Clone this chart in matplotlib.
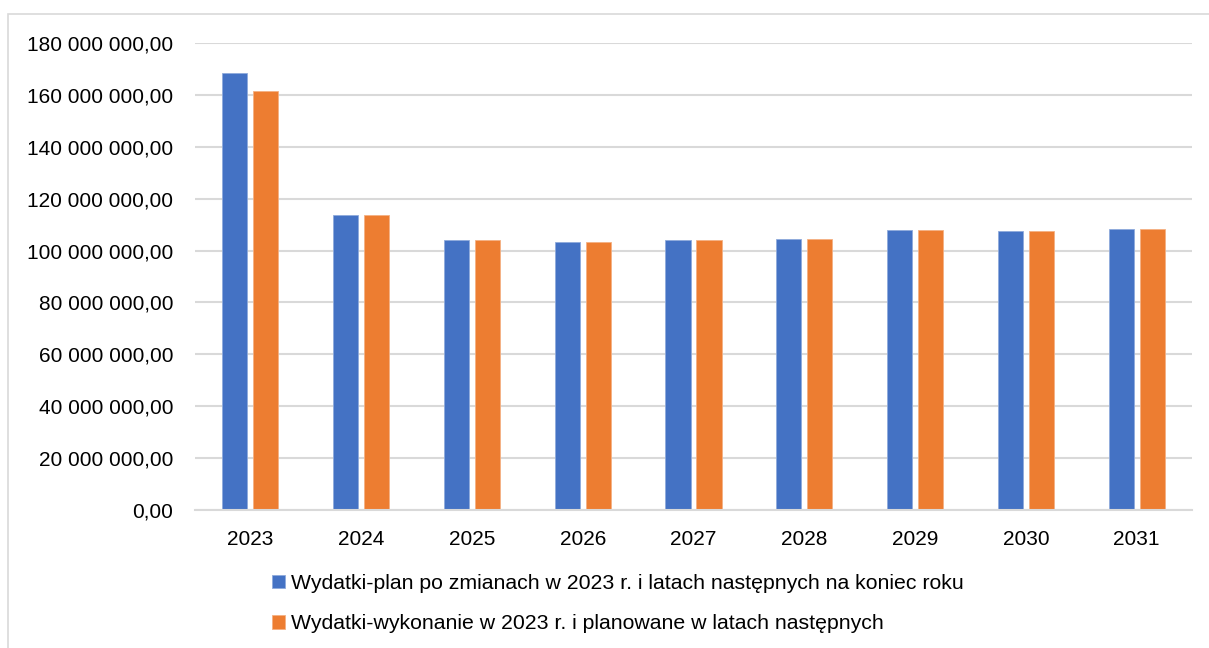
import matplotlib
matplotlib.use("Agg")
import matplotlib.pyplot as plt
from matplotlib.ticker import FuncFormatter, MultipleLocator
from matplotlib.patches import Rectangle
import numpy as np

plt.rcParams['font.family'] = ['Liberation Sans', 'DejaVu Sans']

years = ["2023", "2024", "2025", "2026", "2027", "2028", "2029", "2030", "2031"]
plan = [168.3e6, 113.7e6, 104.0e6, 103.3e6, 104.0e6, 104.4e6, 107.8e6, 107.4e6, 108.2e6]
wykonanie = [161.6e6, 113.7e6, 104.0e6, 103.3e6, 104.0e6, 104.4e6, 107.8e6, 107.4e6, 108.2e6]
labels = ["Wydatki-plan po zmianach w 2023 r. i latach następnych na koniec roku",
          "Wydatki-wykonanie w 2023 r. i planowane w latach następnych"]

W, H = 1209, 648
fig = plt.figure(figsize=(W / 100, H / 100), dpi=100)
ax = fig.add_axes([195 / W, 1 - 510 / H, (1192 - 195) / W, (510 - 43) / H])

x = np.arange(len(years))
bw = 0.226
off = 0.14
b1 = ax.bar(x - off, plan, bw, color="#4472C4", edgecolor="#8FAADC", linewidth=0.6, label=labels[0], zorder=3)
b2 = ax.bar(x + off, wykonanie, bw, color="#ED7D31", edgecolor="#F4B183", linewidth=0.6, label=labels[1], zorder=3)

ax.set_xlim(-0.5, len(years) - 0.5)
ax.set_ylim(0, 180e6)
ax.yaxis.set_major_locator(MultipleLocator(20e6))
ax.yaxis.set_major_formatter(FuncFormatter(lambda v, p: f"{v:,.2f}".replace(",", " ").replace(".", ",")))
ax.set_xticks(x)
ax.set_xticklabels(years)
ax.tick_params(axis="both", length=0, labelsize=15, colors="#000000")
ax.tick_params(axis="y", pad=15.5)
ax.tick_params(axis="x", pad=14.5)
ax.grid(axis="y", color="#D9D9D9", linewidth=1.5, zorder=0)
for s in ["top", "right", "left"]:
    ax.spines[s].set_visible(False)
ax.spines["bottom"].set_color("#D9D9D9")
ax.spines["bottom"].set_linewidth(1.5)
ax.spines["bottom"].set_zorder(4)

fig.legend(handles=[b1, b2], labels=labels, loc="upper left",
           bbox_to_anchor=(272 / W, 1 - 574 / H), frameon=False, fontsize=15.3,
           handlelength=0.6, handleheight=0.6, handletextpad=0.3,
           labelspacing=1.0, borderpad=0, borderaxespad=0)

fig.patches.append(Rectangle((8 / W, -0.01), 1.0, 1 - 14 / H + 0.01, transform=fig.transFigure,
                             fill=False, edgecolor="#D9D9D9", linewidth=1.2))

fig.savefig("out.png", dpi=100)
